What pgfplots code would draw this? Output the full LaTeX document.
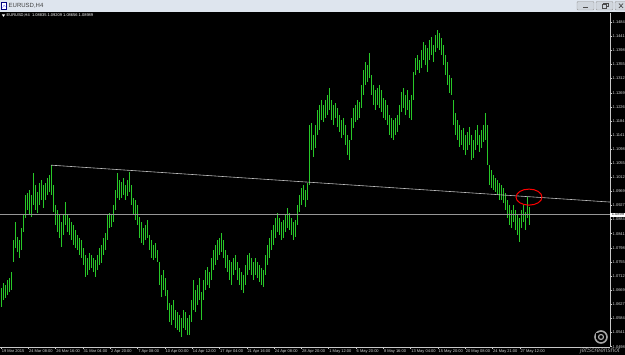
\documentclass[border=0pt]{standalone}
\usepackage{pgfplots}
\pgfplotsset{compat=1.18}
\usepackage{pgfplotstable}
\usepackage{fontspec}
\setmainfont{Liberation Sans}
\definecolor{titlebg}{RGB}{222,229,238}
\definecolor{axcol}{RGB}{200,200,200}
\definecolor{trendcol}{RGB}{190,190,190}
\definecolor{bidcol}{RGB}{150,150,150}
\definecolor{barcol}{RGB}{40,200,40}
\pgfdeclareplotmark{hlbar}{%
  \pgfpathrectangle{\pgfqpoint{-0.4pt}{0pt}}{\pgfqpoint{0.8pt}{\rng pt}}%
  \pgfusepathqfill}
\pgfplotstableread{
i lo hi
0 1.0618 1.0676
1 1.0639 1.0691
2 1.0645 1.0685
3 1.0654 1.0700
4 1.0663 1.0706
5 1.0670 1.0724
6 1.0755 1.0821
7 1.0797 1.0876
8 1.0785 1.0830
9 1.0767 1.0821
10 1.0791 1.0858
11 1.0846 1.0897
12 1.0888 1.0958
13 1.0912 1.0964
14 1.0897 1.0973
15 1.0891 1.0958
16 1.0928 1.1025
17 1.0912 1.0988
18 1.0903 1.0967
19 1.0928 1.0994
20 1.0943 1.1004
21 1.0919 1.0988
22 1.0943 1.0994
23 1.0958 1.1010
24 1.0967 1.1019
25 1.0958 1.1049
26 1.0906 1.0988
27 1.0867 1.0928
28 1.0846 1.0912
29 1.0827 1.0897
30 1.0800 1.0876
31 1.0837 1.0897
32 1.0867 1.0937
33 1.0846 1.0897
34 1.0837 1.0888
35 1.0821 1.0876
36 1.0806 1.0867
37 1.0797 1.0852
38 1.0791 1.0837
39 1.0776 1.0827
40 1.0767 1.0821
41 1.0745 1.0797
42 1.0709 1.0776
43 1.0715 1.0767
44 1.0730 1.0782
45 1.0736 1.0776
46 1.0724 1.0767
47 1.0709 1.0761
48 1.0730 1.0776
49 1.0745 1.0797
50 1.0752 1.0806
51 1.0776 1.0827
52 1.0791 1.0843
53 1.0821 1.0897
54 1.0858 1.0903
55 1.0861 1.0897
56 1.0876 1.0928
57 1.0912 1.0973
58 1.0949 1.1025
59 1.0943 1.1004
60 1.0949 1.0997
61 1.0958 1.1010
62 1.0943 1.0988
63 1.0955 1.1004
64 1.0967 1.1028
65 1.0928 1.0988
66 1.0897 1.0949
67 1.0882 1.0943
68 1.0867 1.0928
69 1.0827 1.0891
70 1.0812 1.0876
71 1.0806 1.0858
72 1.0821 1.0867
73 1.0827 1.0882
74 1.0791 1.0837
75 1.0767 1.0821
76 1.0761 1.0806
77 1.0767 1.0812
78 1.0755 1.0791
79 1.0685 1.0755
80 1.0648 1.0715
81 1.0670 1.0730
82 1.0651 1.0706
83 1.0609 1.0670
84 1.0572 1.0630
85 1.0563 1.0624
86 1.0578 1.0639
87 1.0554 1.0609
88 1.0548 1.0603
89 1.0542 1.0594
90 1.0527 1.0585
91 1.0554 1.0609
92 1.0548 1.0603
93 1.0533 1.0585
94 1.0533 1.0594
95 1.0572 1.0639
96 1.0609 1.0700
97 1.0603 1.0670
98 1.0624 1.0685
99 1.0639 1.0706
100 1.0578 1.0663
101 1.0639 1.0700
102 1.0670 1.0730
103 1.0685 1.0739
104 1.0676 1.0724
105 1.0700 1.0767
106 1.0730 1.0791
107 1.0745 1.0806
108 1.0761 1.0821
109 1.0776 1.0827
110 1.0785 1.0843
111 1.0767 1.0821
112 1.0736 1.0791
113 1.0724 1.0776
114 1.0700 1.0761
115 1.0685 1.0755
116 1.0715 1.0767
117 1.0730 1.0776
118 1.0700 1.0755
119 1.0685 1.0736
120 1.0670 1.0724
121 1.0660 1.0715
122 1.0685 1.0745
123 1.0715 1.0776
124 1.0730 1.0782
125 1.0715 1.0767
126 1.0700 1.0755
127 1.0715 1.0767
128 1.0706 1.0755
129 1.0694 1.0745
130 1.0685 1.0736
131 1.0679 1.0730
132 1.0715 1.0776
133 1.0745 1.0806
134 1.0767 1.0827
135 1.0791 1.0852
136 1.0806 1.0867
137 1.0827 1.0888
138 1.0846 1.0903
139 1.0837 1.0888
140 1.0821 1.0876
141 1.0827 1.0882
142 1.0846 1.0897
143 1.0858 1.0919
144 1.0852 1.0903
145 1.0837 1.0888
146 1.0821 1.0876
147 1.0830 1.0882
148 1.0867 1.0928
149 1.0906 1.0958
150 1.0928 1.0979
151 1.0943 1.0988
152 1.0922 1.0973
153 1.0943 1.0994
154 1.0988 1.1170
155 1.1095 1.1177
156 1.1073 1.1140
157 1.1101 1.1170
158 1.1140 1.1216
159 1.1155 1.1231
160 1.1186 1.1246
161 1.1180 1.1231
162 1.1192 1.1246
163 1.1201 1.1262
164 1.1216 1.1283
165 1.1186 1.1246
166 1.1170 1.1231
167 1.1192 1.1237
168 1.1164 1.1222
169 1.1149 1.1201
170 1.1131 1.1186
171 1.1140 1.1192
172 1.1110 1.1170
173 1.1079 1.1140
174 1.1064 1.1125
175 1.1125 1.1192
176 1.1161 1.1222
177 1.1180 1.1231
178 1.1186 1.1246
179 1.1192 1.1240
180 1.1222 1.1292
181 1.1262 1.1337
182 1.1292 1.1362
183 1.1301 1.1353
184 1.1313 1.1389
185 1.1262 1.1322
186 1.1231 1.1292
187 1.1216 1.1277
188 1.1231 1.1283
189 1.1222 1.1292
190 1.1210 1.1277
191 1.1192 1.1252
192 1.1186 1.1246
193 1.1170 1.1231
194 1.1140 1.1201
195 1.1131 1.1192
196 1.1125 1.1186
197 1.1140 1.1192
198 1.1149 1.1201
199 1.1170 1.1231
200 1.1210 1.1271
201 1.1222 1.1283
202 1.1201 1.1262
203 1.1216 1.1277
204 1.1192 1.1246
205 1.1186 1.1262
206 1.1246 1.1331
207 1.1322 1.1374
208 1.1337 1.1383
209 1.1328 1.1368
210 1.1344 1.1398
211 1.1368 1.1422
212 1.1353 1.1413
213 1.1331 1.1404
214 1.1368 1.1429
215 1.1383 1.1438
216 1.1362 1.1413
217 1.1392 1.1444
218 1.1404 1.1459
219 1.1398 1.1450
220 1.1383 1.1435
221 1.1353 1.1413
222 1.1322 1.1383
223 1.1292 1.1362
224 1.1268 1.1322
225 1.1262 1.1313
226 1.1170 1.1246
227 1.1140 1.1207
228 1.1125 1.1186
229 1.1104 1.1170
230 1.1110 1.1155
231 1.1095 1.1161
232 1.1079 1.1140
233 1.1095 1.1149
234 1.1110 1.1164
235 1.1064 1.1140
236 1.1070 1.1125
237 1.1095 1.1155
238 1.1110 1.1170
239 1.1089 1.1140
240 1.1101 1.1155
241 1.1119 1.1170
242 1.1125 1.1207
243 1.1049 1.1170
244 1.0988 1.1049
245 1.0979 1.1034
246 1.0973 1.1019
247 1.0967 1.1010
248 1.0958 1.1004
249 1.0943 1.0994
250 1.0943 1.0988
251 1.0934 1.0979
252 1.0912 1.0964
253 1.0888 1.0943
254 1.0867 1.0928
255 1.0858 1.0912
256 1.0876 1.0928
257 1.0852 1.0912
258 1.0837 1.0897
259 1.0815 1.0888
260 1.0858 1.0912
261 1.0876 1.0928
262 1.0852 1.0906
263 1.0888 1.0952
264 1.0866 1.0921
}\bars
\begin{document}
\begin{tikzpicture}
\useasboundingbox (0pt,0pt) rectangle (625pt,355pt);
\clip (0pt,0pt) rectangle (625pt,355pt);
\fill[black] (0pt,0pt) rectangle (625pt,355pt);
% window title bar
\fill[titlebg] (0pt,343pt) rectangle (625pt,355pt);
\draw[fill=white, draw=blue!50!black, line width=0.4pt] (1.5pt,345.5pt) rectangle (6.5pt,352.5pt);
\draw[blue!60, line width=0.4pt] (2.5pt,347pt) -- (4pt,350pt) -- (5.5pt,348pt);
\node[anchor=west, inner sep=0pt, font=\fontsize{6}{7}\selectfont, text=black!75] at (8.5pt,349.2pt) {EURUSD,H4};
\draw[fill=titlebg!85!gray, draw=gray!80, rounded corners=1pt, line width=0.4pt] (577pt,345pt) rectangle (594pt,353.5pt);
\draw[black!70, line width=0.8pt] (583pt,347.5pt) -- (588pt,347.5pt);
\draw[fill=titlebg!85!gray, draw=gray!80, rounded corners=1pt, line width=0.4pt] (596pt,345pt) rectangle (613pt,353.5pt);
\draw[black!70, line width=0.5pt] (602pt,347pt) rectangle (606.5pt,350.5pt);
\draw[black!70, line width=0.5pt] (603.5pt,350.5pt) -- (603.5pt,352pt) -- (608pt,352pt) -- (608pt,348.5pt) -- (606.5pt,348.5pt);
\draw[fill=titlebg!85!gray, draw=gray!80, rounded corners=1pt, line width=0.4pt] (615pt,345pt) rectangle (630pt,353.5pt);
\draw[black!70, line width=0.7pt] (619pt,347pt) -- (623pt,351.5pt) (619pt,351.5pt) -- (623pt,347pt);
% chart header
\fill[white] (1.8pt,340.6pt) -- (5.2pt,340.6pt) -- (3.5pt,338.2pt) -- cycle;
\node[anchor=west, inner sep=0pt, font=\fontsize{4}{5}\selectfont, text=white] at (6.5pt,339.6pt) {EURUSD,H4\ \ 1.08835 1.09209 1.08656 1.08989};
% bars (hidden axis; each bar is a filled mark from low to high)
\begin{axis}[
  at={(0pt,8pt)}, anchor=south west, scale only axis,
  width=610pt, height=334pt,
  xmin=-0.5, xmax=304.5, ymin=1.0497, ymax=1.1511,
  hide axis,
]
\addplot[color=barcol, fill=barcol, only marks, mark=hlbar,
  mark options={solid, fill=barcol, color=barcol},
  visualization depends on={(\thisrow{hi}-\thisrow{lo})*3293.9 \as \rng}]
  table[x=i, y=lo] {\bars};
\end{axis}
% lines, ticks and labels
\begin{axis}[
  at={(0pt,8pt)}, anchor=south west, scale only axis,
  width=610pt, height=334pt,
  xmin=-0.5, xmax=304.5, ymin=1.0497, ymax=1.1511,
  axis x line*=bottom, axis y line*=right,
  axis line style={axcol, line width=0.5pt},
  clip=false,
  xtick={0,13.65,27.3,40.95,54.6,68.25,81.9,95.55,109.2,122.85,136.5,150.15,163.8,177.45,191.1,204.75,218.4,232.05,245.7,259.35},
  xticklabels={19 Mar 2015,24 Mar 08:00,26 Mar 16:00,31 Mar 04:00,2 Apr 20:00,7 Apr 08:00,10 Apr 00:00,14 Apr 12:00,17 Apr 04:00,21 Apr 16:00,24 Apr 08:00,28 Apr 20:00,1 May 12:00,6 May 20:00,8 May 16:00,13 May 04:00,15 May 20:00,20 May 08:00,24 May 21:00,27 May 12:00},
  ytick={1.0498,1.0541,1.0584,1.0627,1.0669,1.0712,1.0755,1.0798,1.0841,1.0884,1.0927,1.0969,1.1012,1.1055,1.1098,1.1141,1.1184,1.1226,1.1269,1.1312,1.1355,1.1398,1.1441,1.1484},
  yticklabels={1.0498,1.0541,1.0584,1.0627,1.0669,1.0712,1.0755,1.0798,1.0841,1.0884,1.0927,1.0969,1.1012,1.1055,1.1098,1.1141,1.1184,1.1226,1.1269,1.1312,1.1355,1.1398,1.1441,1.1484},
  tick style={axcol, line width=0.4pt},
  major tick length=2pt, tick align=outside,
  tick label style={font=\fontsize{4}{4.5}\selectfont, text=white!85!black},
  x tick label style={anchor=north west, inner sep=0.6pt, yshift=0.3pt},
  y tick label style={anchor=west, inner sep=0.5pt},
]
\addplot[bidcol, line width=0.5pt] coordinates {(-0.5,1.0899) (304.5,1.0899)};
\addplot[trendcol, line width=0.6pt] coordinates {(25,1.1049) (304.5,1.0937)};
\draw[red, line width=1pt] (axis cs:264,1.0952) ellipse [x radius=13pt, y radius=8pt];
\node[anchor=west, fill=white, text=black, inner sep=0.6pt, font=\fontsize{4}{4.5}\selectfont] at (axis cs:304.5,1.0899) {\hspace{1pt}1.0899};
\end{axis}
% watermark
\draw[gray!70, line width=1.6pt] (601pt,18pt) circle (6pt);
\fill[black] (596pt,16pt) rectangle (603pt,22pt);
\draw[gray!70, line width=1.2pt] (601pt,18pt) circle (2.5pt);
\node[anchor=south east, inner sep=0pt, font=\fontsize{6.5}{7}\itshape\selectfont, text=gray!75] at (620pt,0.5pt) {jetScreenshot};
\end{tikzpicture}
\end{document}
